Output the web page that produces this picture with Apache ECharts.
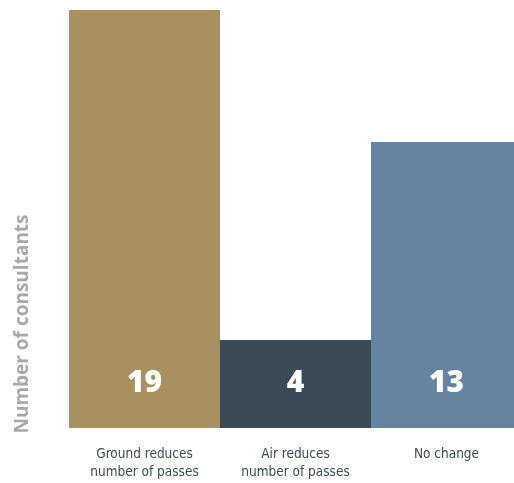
<!DOCTYPE html>
<html><head><meta charset="utf-8">
<script src="https://cdn.jsdelivr.net/npm/echarts@6/dist/echarts.min.js"></script>
<style>html,body{margin:0;padding:0;background:#fff}#c{width:514px;height:483px}</style>
</head><body><div id="c"></div>
<script>
var categories = ['Ground reduces\nnumber of passes', 'Air reduces\nnumber of passes', 'No change'];
var values = [19, 4, 13];
var barColors = ['#a89060', '#3a4a56', '#6584a1'];
var yAxisTitle = 'Number of consultants';

var chart = echarts.init(document.getElementById('c'), null, {renderer: 'canvas'});
chart.setOption({
  animation: false,
  grid: {left: 69, top: 10, right: -8, bottom: 55, containLabel: false, outerBoundsMode: 'none'},
  xAxis: {
    type: 'category', data: categories,
    axisLine: {show: false}, axisTick: {show: false},
    axisLabel: {color: '#3e4a55', fontFamily: '"DejaVu Sans Condensed", "Roboto", sans-serif', fontSize: 13.5, lineHeight: 18, margin: 17}
  },
  yAxis: {type: 'value', min: 0, max: 19, show: false},
  graphic: [{
    type: 'text', x: 23, y: 324, rotation: Math.PI / 2,
    style: {text: yAxisTitle, fill: '#a8a8a8', font: 'bold 19px "Open Sans"', align: 'center', verticalAlign: 'middle'}
  }],
  series: [{
    type: 'bar', barWidth: '100%', barCategoryGap: 0,
    data: values.map(function (v, i) { return {value: v, itemStyle: {color: barColors[i]}}; }),
    label: {show: true, position: 'insideBottom', distance: 30, color: '#fff', fontFamily: 'Open Sans', fontWeight: 800, fontSize: 30}
  }]
});
</script></body></html>
